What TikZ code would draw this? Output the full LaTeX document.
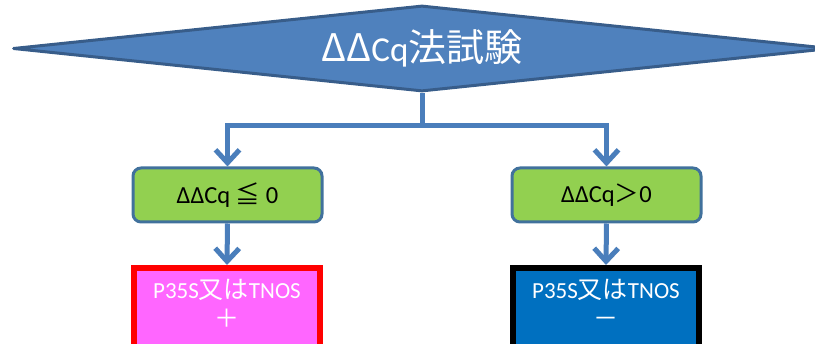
\documentclass[tikz,border=0pt]{standalone}
\usepackage{fontspec}
\setmainfont{Carlito}
\newfontfamily\cjk{Noto Sans CJK JP}
\usetikzlibrary{shapes.geometric,arrows.meta}
\definecolor{dia}{HTML}{4F81BD}
\definecolor{diaedge}{HTML}{385D8A}
\definecolor{conn}{HTML}{4A7EBB}
\definecolor{grn}{HTML}{92D050}
\definecolor{grnedge}{HTML}{41719C}
\definecolor{mag}{HTML}{FF66FF}
\definecolor{blu}{HTML}{0070C0}
\newcommand{\bigcjk}[1]{{\cjk\fontsize{38}{44}\selectfont #1}}
\newcommand{\midcjk}[1]{{\cjk\fontsize{25}{30}\selectfont #1}}
\tikzset{
  decision/.style={diamond, draw=diaedge, fill=dia, line width=3pt,
    line join=round, minimum width=818pt, minimum height=86pt, aspect=9.5,
    inner sep=0pt, text=white, font=\fontsize{35}{40}\selectfont},
  condbox/.style={rectangle, rounded corners=8pt, draw=grnedge, fill=grn,
    line width=3pt, minimum width=189pt, minimum height=54pt, inner sep=0pt,
    font=\fontsize{24.5}{30}\selectfont},
  resbox/.style={rectangle, line width=6pt, minimum width=186pt,
    minimum height=90pt, inner sep=0pt},
  restext/.style={align=center, text=white, inner sep=0pt,
    font=\fontsize{23}{29}\selectfont},
  connline/.style={draw=conn, line width=5pt, line join=miter},
  connarrow/.style={connline, -{Straight Barb[length=13pt,width=24pt]}},
}
\begin{document}
\begin{tikzpicture}[x=1pt,y=-1pt]
\useasboundingbox (0,0) rectangle (815,344);
\node[decision] (test) at (422,48.5) {\bigcjk{ΔΔ}Cq\bigcjk{法試験}};
\node[condbox] (le) at (227.5,195) {ΔΔCq {\cjk ≦} 0};
\node[condbox] (gt) at (606.5,195) {ΔΔCq{\cjk ＞}0};
\node[resbox, draw=red, fill=mag, anchor=north] (pos) at (227,265) {};
\node[resbox, draw=black, fill=blu, anchor=north] (neg) at (606,265) {};
\node[restext] (postext) at (227,303) {P35S\midcjk{又は}TNOS\\\midcjk{＋}};
\node[restext] (negtext) at (606,303) {P35S\midcjk{又は}TNOS\\\midcjk{－}};
\coordinate (j) at (422,126);
\draw[connline] (test.south) -- (j);
\draw[connarrow] (j) -| (le.north);
\draw[connarrow] (j) -| (gt.north);
\draw[connarrow] (le.south) -- (pos.north);
\draw[connarrow] (gt.south) -- (neg.north);
\end{tikzpicture}
\end{document}
